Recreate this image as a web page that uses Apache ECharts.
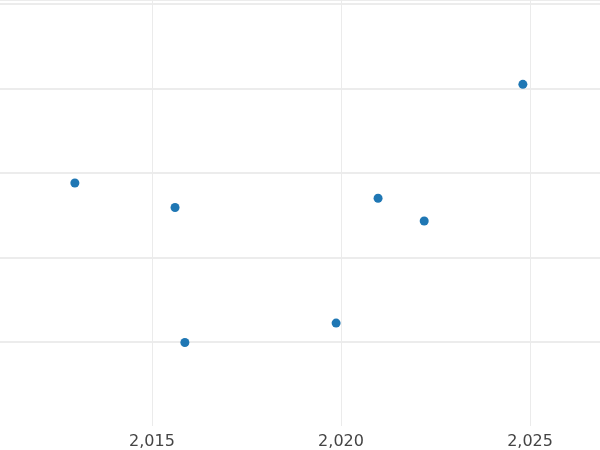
<!DOCTYPE html>
<html>
<head>
<meta charset="utf-8">
<script src="https://cdn.jsdelivr.net/npm/echarts@6/dist/echarts.min.js"></script>
</head>
<body style="margin:0">
<div id="main" style="width:600px;height:450px;"></div>
<script>
var years = [2012.96, 2015.61, 2015.87, 2019.87, 2020.98, 2022.20, 2024.81];
var values = [2.88, 2.59, 0.99, 1.22, 2.70, 2.43, 4.05];
var xTicks = [2015, 2020, 2025];
var chart = echarts.init(document.getElementById('main'));
chart.setOption({
  animation: false,
  grid: { left: 0, right: 0, top: 0, bottom: 23 },
  xAxis: {
    type: 'value', min: 2010.98, max: 2026.85,
    axisLine: { show: false }, axisTick: { show: false, customValues: xTicks },
    axisLabel: { color: '#444', fontSize: 16, fontFamily: 'DejaVu Sans', margin: 8,
      customValues: xTicks },
    splitLine: { show: false }
  },
  yAxis: {
    type: 'value', min: 0, max: 5.05, interval: 1,
    axisLine: { show: false }, axisTick: { show: false }, axisLabel: { show: false },
    splitLine: { showMinLine: false, lineStyle: { color: '#e6e6e6', width: 1.5 } }
  },
  series: [{
    type: 'scatter', symbolSize: 9,
    itemStyle: { color: '#1f77b4', opacity: 1 },
    data: years.map(function (y, i) { return [y, values[i]]; }),
    markLine: {
      silent: true, symbol: 'none', label: { show: false },
      lineStyle: { color: '#ebebeb', type: 'solid', width: 1 },
      data: xTicks.map(function (t) { return { xAxis: t }; })
    }
  }]
});
</script>
</body>
</html>
